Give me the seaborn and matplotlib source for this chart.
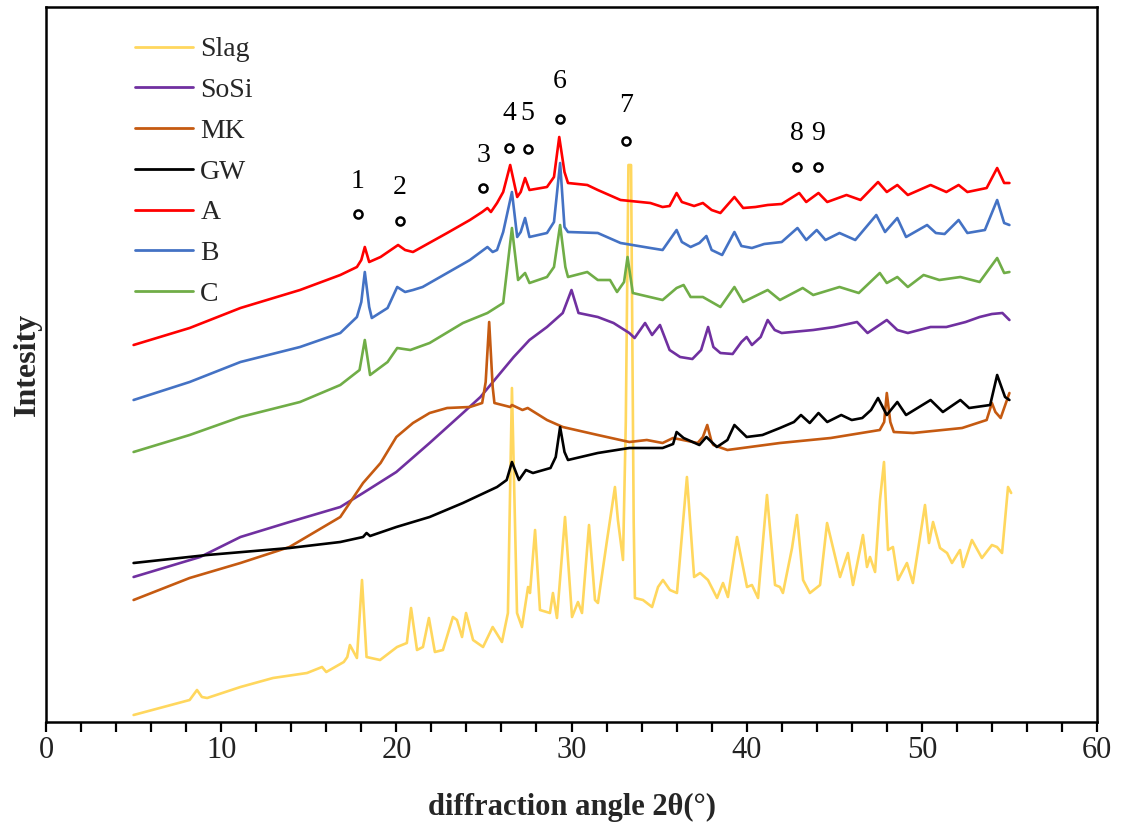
import matplotlib
matplotlib.use("Agg")
import matplotlib.pyplot as plt
from matplotlib.lines import Line2D
import seaborn as sns
import pandas as pd

# ---------------- data (2theta in degrees, intensity in a.u.) ----------------
slag_x = [5.0, 8.2, 8.62, 8.9, 9.2, 11.1, 12.96, 14.9, 15.76, 16.0, 16.2, 17.0, 17.2, 17.35, 17.75,
          18.04, 18.3, 19.07, 20.04, 20.6, 20.84, 21.18, 21.52, 21.86, 22.2, 22.66, 23.23, 23.46,
          23.75, 23.98, 24.38, 24.95, 25.5, 26.03, 26.37, 26.6, 26.89, 27.17, 27.52, 27.63, 27.92,
          28.2, 28.77, 28.94, 29.17, 29.63, 30.03, 30.37, 30.6, 31.0, 31.34, 31.51, 32.03, 32.48,
          32.65, 32.94, 33.1, 33.25, 33.4, 33.55, 33.62, 34.08, 34.6, 34.94, 35.22, 35.62, 36.02,
          36.59, 37.0, 37.34, 37.79, 38.31, 38.65, 38.93, 39.45, 40.02, 40.3, 40.65, 41.16, 41.62,
          41.9, 42.07, 42.59, 42.87, 43.22, 43.61, 44.19, 44.59, 45.33, 45.78, 46.07, 46.64, 46.87,
          47.04, 47.33, 47.61, 47.84, 48.07, 48.35, 48.64, 49.15, 49.49, 50.18, 50.41, 50.64, 51.04,
          51.44, 51.72, 52.18, 52.35, 52.86, 53.43, 54.0, 54.29, 54.58, 54.92, 55.1]
slag_y = [7, 22, 32, 25, 24, 35, 44, 49, 55, 50, 52, 60, 65, 77, 64,
          142, 65, 62, 75, 79, 114, 72, 75, 104, 70, 72, 105, 102,
          85, 109, 82, 75, 95, 80, 109, 334, 109, 95, 135, 129, 192,
          112, 109, 129, 104, 205, 105, 120, 109, 197, 122, 119, 182, 235,
          202, 162, 300, 557, 557, 200, 124, 122, 115, 135, 142, 132, 129,
          245, 145, 149, 142, 124, 139, 125, 185, 135, 137, 124, 227, 137,
          135, 129, 174, 207, 142, 129, 137, 199, 145, 169, 137, 187, 155,
          165, 150, 222, 260, 172, 175, 142, 159, 139, 217, 179, 200, 174,
          169, 159, 172, 155, 182, 164, 177, 175, 169, 235, 229]

sosi_x = [5.0, 8.8, 11.1, 13.9, 16.8, 18.1, 20.0, 21.9, 23.8, 24.8, 25.75, 26.7, 27.6, 28.6, 29.5,
          30.0, 30.4, 31.5, 32.4, 33.3, 33.6, 34.2, 34.6, 35.05, 35.6, 36.2, 36.9, 37.4, 37.8, 38.1,
          38.5, 39.2, 39.7, 40.0, 40.3, 40.8, 41.2, 41.6, 42.0, 42.6, 43.8, 45.0, 46.3, 46.9, 48.0,
          48.6, 49.2, 50.5, 51.4, 52.5, 53.3, 54.0, 54.6, 55.0]
sosi_y = [145, 165, 185, 200, 215, 229, 250, 279, 309, 325, 345, 365, 382, 395, 409,
          432, 409, 405, 399, 389, 384, 399, 387, 397, 372, 365, 363, 372, 395, 375,
          369, 368, 380, 385, 377, 385, 402, 392, 389, 390, 392, 395, 400, 389, 402,
          392, 389, 395, 395, 400, 405, 408, 409, 402]

mk_x = [5.0, 8.2, 11.1, 13.9, 16.8, 18.1, 19.1, 20.0, 20.95, 21.9, 22.9, 24.2, 24.9, 25.1, 25.3,
        25.5, 25.6, 26.5, 26.6, 27.2, 27.5, 28.6, 29.5, 31.5, 33.3, 34.3, 35.2, 35.8, 37.2, 37.5,
        37.75, 38.0, 38.1, 38.9, 41.9, 44.8, 47.6, 47.85, 48.0, 48.2, 48.4, 49.5, 52.3, 53.7, 54.0,
        54.2, 54.5, 55.0]
mk_y = [122, 144, 159, 175, 205, 239, 259, 285, 299, 309, 314, 315, 319, 340, 400,
        335, 319, 315, 317, 312, 314, 302, 295, 287, 280, 282, 279, 284, 279, 285,
        297, 280, 277, 272, 279, 284, 292, 300, 329, 300, 290, 289, 294, 302, 319,
        310, 304, 329]

gw_x = [5.0, 9.2, 13.9, 16.8, 18.1, 18.3, 18.5, 20.0, 21.9, 23.8, 25.75, 26.3, 26.6, 27.0, 27.4,
        27.8, 28.8, 29.1, 29.35, 29.6, 29.8, 31.5, 33.3, 35.2, 35.8, 36.0, 36.4, 37.3, 37.7, 38.3,
        38.9, 39.3, 40.0, 40.9, 41.9, 42.7, 43.1, 43.6, 44.1, 44.6, 45.4, 46.0, 46.6, 47.1, 47.5,
        48.0, 48.6, 49.1, 50.5, 51.2, 52.2, 52.7, 53.9, 54.3, 54.75, 55.0]
gw_y = [159, 167, 174, 180, 185, 189, 186, 195, 205, 219, 235, 242, 260, 242, 252,
        249, 254, 265, 295, 270, 262, 269, 274, 274, 278, 290, 284, 277, 285, 275,
        282, 297, 285, 287, 294, 300, 307, 299, 309, 300, 307, 302, 304, 312, 324,
        307, 320, 307, 322, 310, 322, 314, 317, 347, 325, 322]

a_x = [5.0, 8.2, 11.1, 14.5, 16.8, 17.75, 18.0, 18.2, 18.45, 19.1, 20.1, 20.5, 20.95, 22.9, 24.2,
       24.9, 25.2, 25.4, 25.75, 26.1, 26.5, 26.9, 27.1, 27.35, 27.6, 28.6, 29.0, 29.3, 29.6, 29.8,
       30.9, 31.5, 32.8, 34.5, 35.2, 35.6, 36.0, 36.3, 37.0, 37.5, 38.0, 38.5, 39.3, 39.8, 40.5,
       41.2, 42.0, 43.0, 43.4, 44.1, 44.6, 45.7, 46.5, 47.5, 48.0, 48.6, 49.2, 50.5, 51.4, 52.1,
       52.6, 53.7, 54.3, 54.7, 55.0]
a_y = [377, 394, 414, 432, 447, 455, 462, 475, 460, 465, 477, 472, 470, 489, 502,
       510, 514, 510, 519, 530, 557, 525, 530, 544, 532, 535, 545, 585, 550, 539,
       537, 532, 522, 519, 515, 516, 529, 520, 516, 519, 512, 509, 525, 514, 515,
       517, 518, 529, 520, 529, 520, 527, 522, 540, 530, 537, 527, 537, 530, 537,
       530, 534, 554, 539, 539]

b_x = [5.0, 8.2, 11.1, 14.5, 16.8, 17.75, 18.0, 18.2, 18.45, 18.6, 19.5, 20.05, 20.5, 20.95, 21.5,
       22.9, 24.2, 25.2, 25.5, 25.75, 26.1, 26.6, 26.9, 27.1, 27.35, 27.6, 28.6, 29.0, 29.35, 29.6,
       29.8, 31.5, 32.8, 34.5, 35.2, 36.0, 36.3, 36.8, 37.3, 37.7, 38.0, 38.6, 39.3, 39.7, 40.3,
       41.0, 42.0, 42.9, 43.4, 44.0, 44.5, 45.3, 46.2, 47.4, 47.9, 48.6, 49.1, 50.3, 50.8, 51.3,
       52.1, 52.6, 53.6, 54.3, 54.7, 55.0]
b_y = [322, 340, 360, 375, 389, 405, 420, 450, 415, 404, 414, 435, 430, 432, 435,
       449, 462, 475, 470, 472, 490, 530, 485, 490, 504, 485, 489, 500, 559, 495,
       490, 489, 479, 474, 472, 492, 480, 475, 479, 486, 472, 467, 490, 476, 474,
       478, 480, 494, 482, 492, 482, 489, 482, 507, 490, 504, 485, 497, 489, 488,
       502, 489, 492, 522, 499, 497]

c_x = [5.0, 8.2, 11.1, 14.5, 16.8, 17.9, 18.2, 18.5, 19.5, 20.05, 20.8, 21.9, 23.8, 25.2, 26.1,
       26.6, 26.95, 27.35, 27.6, 28.6, 29.0, 29.35, 29.65, 29.8, 30.9, 31.5, 32.2, 32.6, 33.0, 33.2,
       33.5, 35.2, 36.0, 36.4, 36.8, 37.5, 38.5, 39.3, 39.8, 41.2, 41.9, 43.2, 43.8, 45.3, 46.4,
       47.6, 48.0, 48.6, 49.2, 50.1, 51.0, 52.2, 53.3, 54.3, 54.7, 55.0]
c_y = [270, 287, 305, 320, 337, 352, 382, 347, 360, 374, 372, 379, 399, 409, 419,
       494, 442, 449, 439, 445, 455, 497, 455, 445, 450, 442, 442, 430, 440, 465,
       429, 422, 434, 437, 425, 425, 415, 435, 420, 432, 422, 434, 427, 435, 429,
       449, 439, 445, 435, 447, 442, 445, 440, 464, 449, 450]

samples = ["Slag", "SoSi", "MK", "GW", "A", "B", "C"]
colors = ["#FFD75E", "#7030A0", "#C55A11", "#000000", "#FF0000", "#4472C4", "#70AD47"]

peak_labels = ["1", "2", "3", "4", "5", "6", "7", "8", "9"]
peak_x = [17.8, 20.2, 24.95, 26.45, 27.5, 29.35, 33.1, 42.85, 44.05]
peak_mark_y = [508, 501, 534, 574, 573, 603, 581, 555, 555]
peak_text_y = [540, 534, 567, 608, 608, 640, 617, 589, 589]

x_ticks = [0, 10, 20, 30, 40, 50, 60]

# ---------------- build table ----------------
series = {"Slag": (slag_x, slag_y), "SoSi": (sosi_x, sosi_y), "MK": (mk_x, mk_y),
          "GW": (gw_x, gw_y), "A": (a_x, a_y), "B": (b_x, b_y), "C": (c_x, c_y)}
frames = []
for name in samples:
    xs, ys = series[name]
    frames.append(pd.DataFrame({"two_theta": xs, "intensity": ys, "sample": name}))
df = pd.concat(frames, ignore_index=True)

sns.set_theme(style="white")
plt.rcParams["font.family"] = ["Liberation Serif", "DejaVu Serif"]
plt.rcParams["mathtext.fontset"] = "stix"

fig = plt.figure(figsize=(11.21, 8.31), dpi=100)
ax = fig.add_axes([46 / 1121, 1 - 722 / 831, (1097 - 46) / 1121, (722 - 7) / 831])

palette = dict(zip(samples, colors))
sns.lineplot(data=df, x="two_theta", y="intensity", hue="sample", hue_order=samples,
             palette=palette, estimator=None, sort=False, linewidth=1.9, legend=False, ax=ax)

# peak markers and numbers
ax.scatter(peak_x, peak_mark_y, s=34, facecolors="white", edgecolors="black",
           linewidths=1.8, zorder=5)
for lab, px, py in zip(peak_labels, peak_x, peak_text_y):
    ax.text(px, py, lab, ha="center", va="center", fontsize=20, color="black")

ax.set_xlim(0, 60)
ax.set_ylim(0, 715)
ax.set_xticks(x_ticks)
ax.set_xticks([v for v in range(0, 61, 2)], minor=True)
ax.set_yticks([])
ax.tick_params(axis="x", which="both", direction="out", length=7, width=1.6,
               bottom=True, labelsize=22, pad=3, colors="black")
ax.tick_params(axis="x", which="major", labelcolor="#222222")
for sp in ax.spines.values():
    sp.set_visible(True)
    sp.set_color("black")
    sp.set_linewidth(1.8)

ax.set_xlabel("diffraction angle 2θ(°)", fontsize=22, fontweight="bold", labelpad=20)
ax.set_ylabel("Intesity", fontsize=23, fontweight="bold", labelpad=3)

handles = [Line2D([0], [0], color=c, lw=2.0) for c in colors]
ax.legend(handles, samples, loc="upper left", bbox_to_anchor=(0.0847, 0.958),
          frameon=False, fontsize=20, handlelength=2.1, handletextpad=0.25,
          labelspacing=0.55, borderpad=0, borderaxespad=0)

fig.savefig("out.png", dpi=100)
